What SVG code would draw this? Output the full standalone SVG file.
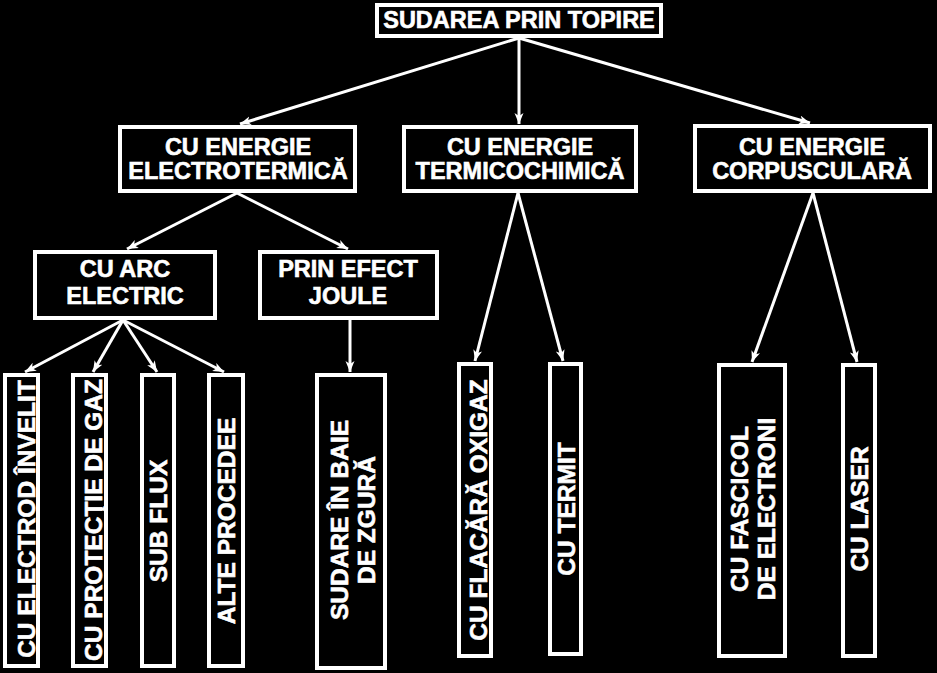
<svg xmlns="http://www.w3.org/2000/svg" width="937" height="673" viewBox="0 0 937 673">
<defs>
<style>
.box{fill:#000;stroke:#fff;stroke-width:4}
.t{fill:#fff;stroke:#fff;stroke-width:0.6;font-family:"Liberation Sans",Arial,sans-serif;font-weight:bold;font-size:23.5px;text-anchor:middle}
.v{font-size:24.5px}
.c{stroke:#fff;stroke-width:3;fill:none;marker-end:url(#ah)}
</style>
<marker id="ah" markerUnits="userSpaceOnUse" markerWidth="12" markerHeight="10" refX="11" refY="4.5" orient="auto">
<path d="M0,0 L11,4.5 L0,9 L3,4.5 z" fill="#fff"/>
</marker>
</defs>
<rect width="937" height="673" fill="#000"/>
<g id="connectors">
<line class="c" x1="519" y1="38" x2="240" y2="124"/>
<line class="c" x1="519" y1="38" x2="519" y2="124"/>
<line class="c" x1="519" y1="38" x2="810" y2="123"/>
<line class="c" x1="237" y1="193" x2="127" y2="249"/>
<line class="c" x1="237" y1="193" x2="348" y2="249"/>
<line class="c" x1="123" y1="320" x2="25" y2="372"/>
<line class="c" x1="123" y1="320" x2="93" y2="372"/>
<line class="c" x1="123" y1="320" x2="157" y2="372"/>
<line class="c" x1="123" y1="320" x2="224" y2="372"/>
<line class="c" x1="350" y1="320" x2="350" y2="372"/>
<line class="c" x1="518" y1="193" x2="475" y2="361"/>
<line class="c" x1="518" y1="193" x2="563" y2="361"/>
<line class="c" x1="813" y1="193" x2="752" y2="362"/>
<line class="c" x1="813" y1="193" x2="857" y2="362"/>
</g>
<g id="n-topire">
<rect class="box" x="377" y="5" width="284" height="31"/>
<text class="t" x="519" y="28">SUDAREA PRIN TOPIRE</text>
</g>
<g id="n-electrotermica">
<rect class="box" x="120" y="127" width="235" height="64"/>
<text class="t" x="238" y="155">CU ENERGIE</text>
<text class="t" x="238" y="179">ELECTROTERMICĂ</text>
</g>
<g id="n-termicochimica">
<rect class="box" x="404" y="127" width="232" height="64"/>
<text class="t" x="520" y="155">CU ENERGIE</text>
<text class="t" x="520" y="179">TERMICOCHIMICĂ</text>
</g>
<g id="n-corpusculara">
<rect class="box" x="695" y="126" width="235" height="65"/>
<text class="t" x="812" y="155">CU ENERGIE</text>
<text class="t" x="812" y="179">CORPUSCULARĂ</text>
</g>
<g id="n-arc">
<rect class="box" x="35" y="252" width="180" height="66"/>
<text class="t" x="125" y="277">CU ARC</text>
<text class="t" x="125" y="304">ELECTRIC</text>
</g>
<g id="n-joule">
<rect class="box" x="260" y="252" width="177" height="66"/>
<text class="t" x="348" y="277">PRIN EFECT</text>
<text class="t" x="348" y="304">JOULE</text>
</g>
<g id="n-electrod">
<rect class="box" x="5" y="375" width="33" height="291"/>
<text class="t v" transform="translate(35,519) rotate(-90)">CU ELECTROD ÎNVELIT</text>
</g>
<g id="n-gaz">
<rect class="box" x="73" y="375" width="33" height="291"/>
<text class="t v" transform="translate(102,520) rotate(-90)">CU PROTECŢIE DE GAZ</text>
</g>
<g id="n-flux">
<rect class="box" x="142" y="375" width="32" height="291"/>
<text class="t v" transform="translate(167,521) rotate(-90)">SUB FLUX</text>
</g>
<g id="n-alte">
<rect class="box" x="209" y="375" width="34" height="291"/>
<text class="t v" transform="translate(235,521) rotate(-90)">ALTE PROCEDEE</text>
</g>
<g id="n-zgura">
<rect class="box" x="317" y="375" width="68" height="293"/>
<text class="t v" transform="translate(348,520) rotate(-90)">SUDARE ÎN BAIE</text>
<text class="t v" transform="translate(375,520) rotate(-90)">DE ZGURĂ</text>
</g>
<g id="n-oxigaz">
<rect class="box" x="459" y="364" width="32" height="292"/>
<text class="t v" transform="translate(487,510) rotate(-90)">CU FLACĂRĂ OXIGAZ</text>
</g>
<g id="n-termit">
<rect class="box" x="550" y="364" width="31" height="290"/>
<text class="t v" transform="translate(575,509) rotate(-90)">CU TERMIT</text>
</g>
<g id="n-fascicol">
<rect class="box" x="719" y="365" width="66" height="291"/>
<text class="t v" transform="translate(748,509) rotate(-90)">CU FASCICOL</text>
<text class="t v" transform="translate(775,509) rotate(-90)">DE ELECTRONI</text>
</g>
<g id="n-laser">
<rect class="box" x="843" y="365" width="32" height="291"/>
<text class="t v" transform="translate(868,509) rotate(-90)">CU LASER</text>
</g>
</svg>
